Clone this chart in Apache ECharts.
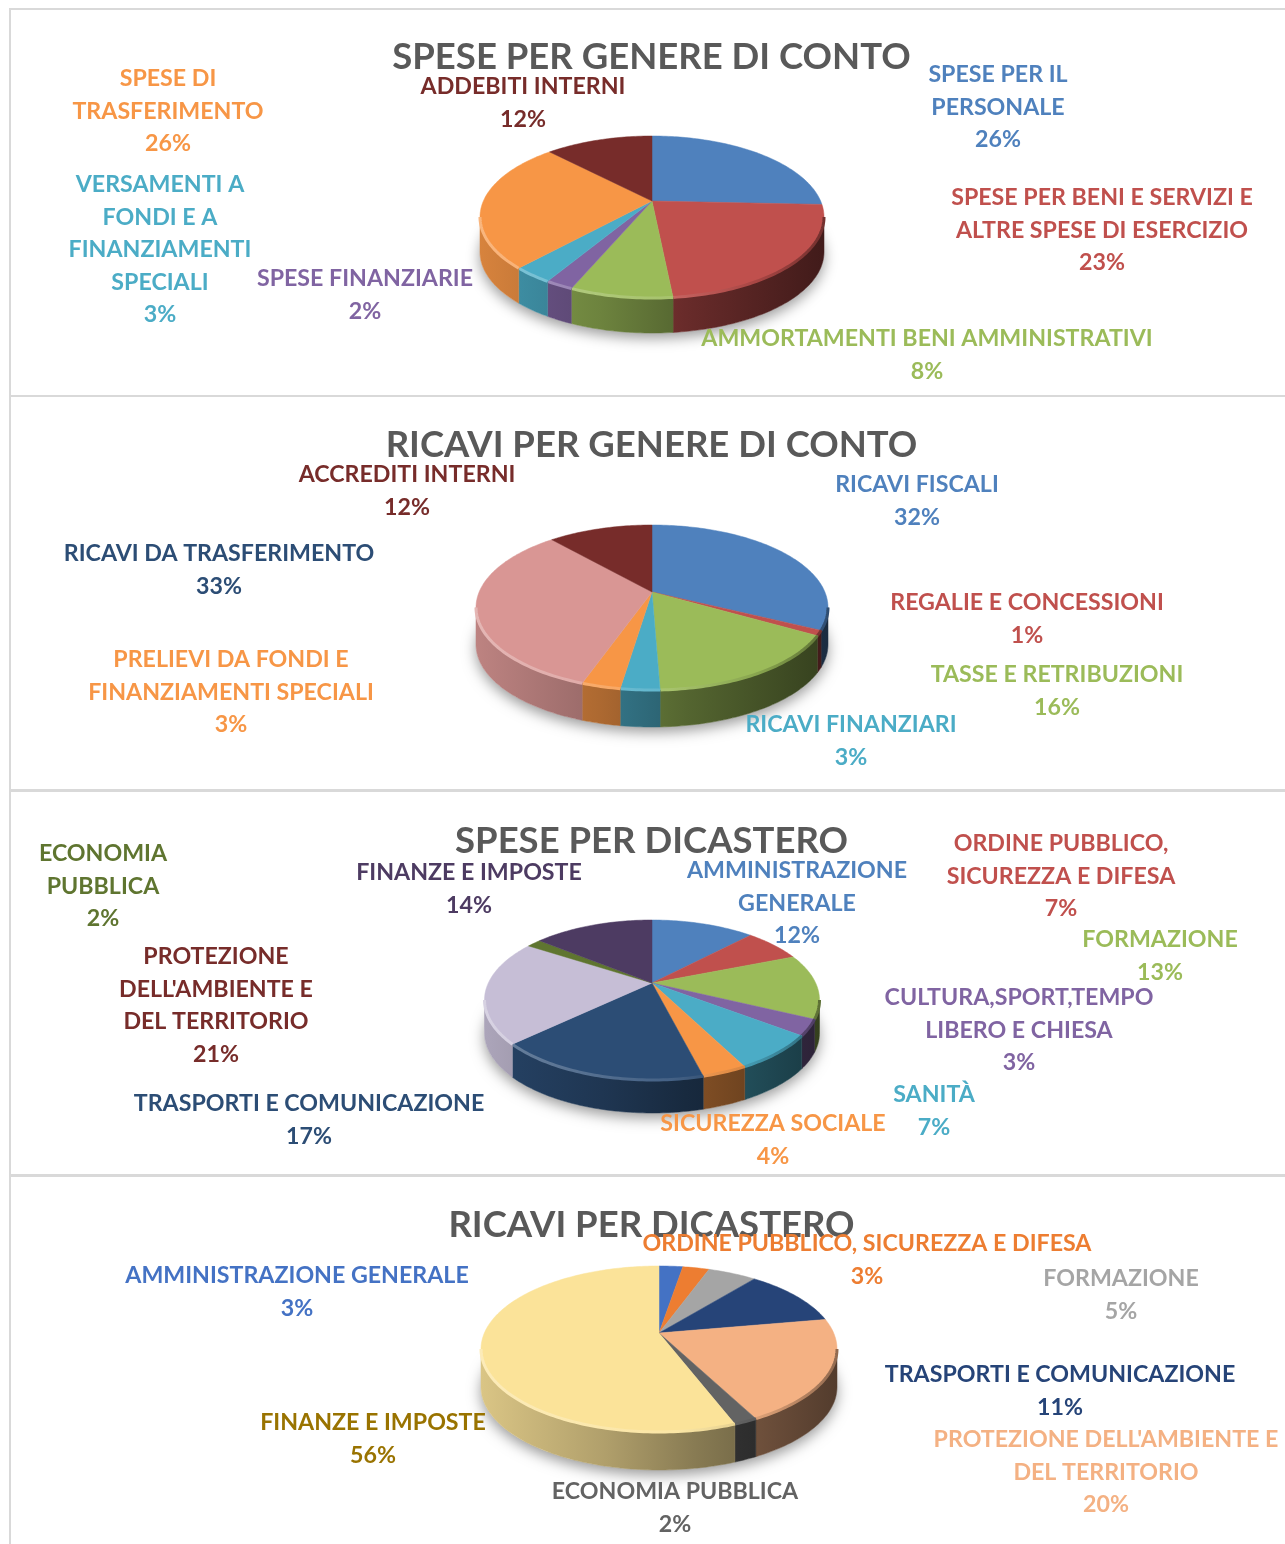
<!DOCTYPE html>
<html>
<head>
<meta charset="utf-8">
<script src="https://cdn.jsdelivr.net/npm/echarts@6/dist/echarts.min.js"></script>
<style>
  html, body { margin: 0; padding: 0; background: #fff; }
  #main { width: 1285px; height: 1544px; }
</style>
</head>
<body>
<div id="main"></div>
<script>
// spese per genere di conto
const speseContoNomi = ['SPESE PER IL\nPERSONALE', 'SPESE PER BENI E SERVIZI E\nALTRE SPESE DI ESERCIZIO', 'AMMORTAMENTI BENI AMMINISTRATIVI', 'SPESE FINANZIARIE', 'VERSAMENTI A\nFONDI E A\nFINANZIAMENTI\nSPECIALI', 'SPESE DI\nTRASFERIMENTO', 'ADDEBITI INTERNI'];
const speseContoValori = [25.7, 22.7, 8.0, 2.2, 3.2, 26.0, 12.2];
// ricavi per genere di conto
const ricaviContoNomi = ['RICAVI FISCALI', 'REGALIE E CONCESSIONI', 'TASSE E RETRIBUZIONI', 'RICAVI FINANZIARI', 'PRELIEVI DA FONDI E\nFINANZIAMENTI SPECIALI', 'RICAVI DA TRASFERIMENTO', 'ACCREDITI INTERNI'];
const ricaviContoValori = [32.3, 1.0, 16.1, 3.0, 3.0, 33.1, 11.51];
// spese per dicastero
const speseDicNomi = ['AMMINISTRAZIONE\nGENERALE', 'ORDINE PUBBLICO,\nSICUREZZA E DIFESA', 'FORMAZIONE', 'CULTURA,SPORT,TEMPO\nLIBERO E CHIESA', 'SANITÀ', 'SICUREZZA SOCIALE', 'TRASPORTI E COMUNICAZIONE', "PROTEZIONE\nDELL'AMBIENTE E\nDEL TERRITORIO", 'ECONOMIA\nPUBBLICA', 'FINANZE E IMPOSTE'];
const speseDicValori = [12.2, 6.8, 13.1, 3.2, 7.1, 3.6, 17.0, 21.1, 1.7, 14.2];
// ricavi per dicastero
const ricaviDicNomi = ['AMMINISTRAZIONE GENERALE', 'ORDINE PUBBLICO, SICUREZZA E DIFESA', 'FORMAZIONE', 'TRASPORTI E COMUNICAZIONE', "PROTEZIONE DELL'AMBIENTE E\nDEL TERRITORIO", 'ECONOMIA PUBBLICA', 'FINANZE E IMPOSTE'];
const ricaviDicValori = [2.6, 2.9, 5.3, 11.4, 20.2, 1.8, 55.8];

const titoli = ['SPESE PER GENERE DI CONTO', 'RICAVI PER GENERE DI CONTO', 'SPESE PER DICASTERO', 'RICAVI PER DICASTERO'];

const FONT = 'Lato';
const LINE_H = 32.6;

// colori fette / testo
const BLU = '#4f81bd', ROSSO = '#c0504d', VERDE = '#9bbb59', VIOLA = '#8064a2', TEAL = '#4bacc6', ARANCIO = '#f79646';
const MARRONE = '#772c2a', NAVY = '#2c4d75', PRUGNA = '#4d3b62', OLIVA = '#5f7530';

const pies = [
  {
    nomi: speseContoNomi, valori: speseContoValori,
    colori: [BLU, ROSSO, VERDE, VIOLA, TEAL, ARANCIO, MARRONE],
    testo: [BLU, ROSSO, VERDE, VIOLA, TEAL, ARANCIO, MARRONE],
    cx: 652, cy: 201, up: 65, down: 97, half: 172, depth: 35, titleY: 56,
    pos: [[998, 74.5], [1102, 197.5], [927, 338.5], [365, 278.5], [160, 184.5], [168, 78.5], [523, 86.5]]
  },
  {
    nomi: ricaviContoNomi, valori: ricaviContoValori,
    colori: [BLU, ROSSO, VERDE, TEAL, ARANCIO, '#d99694', MARRONE],
    testo: [BLU, ROSSO, VERDE, TEAL, ARANCIO, NAVY, MARRONE],
    cx: 652, cy: 592, up: 67, down: 98, half: 176, depth: 37, titleY: 444,
    pos: [[917, 484.5], [1027, 602.5], [1057, 674.5], [851, 724.5], [231, 659.5], [219, 553.5], [407, 474.5]]
  },
  {
    nomi: speseDicNomi, valori: speseDicValori,
    colori: [BLU, ROSSO, VERDE, VIOLA, TEAL, ARANCIO, NAVY, '#c6bed6', OLIVA, PRUGNA],
    testo: [BLU, ROSSO, VERDE, VIOLA, TEAL, ARANCIO, NAVY, MARRONE, OLIVA, PRUGNA],
    cx: 652, cy: 983, up: 63, down: 97, half: 167.5, depth: 33, titleY: 840,
    pos: [[797, 870.5], [1061, 843.5], [1160, 939.5], [1019, 997.5], [934, 1094.5], [773, 1123.5], [309, 1103.5], [216, 956.5], [103, 853.5], [469, 872.5]]
  },
  {
    nomi: ricaviDicNomi, valori: ricaviDicValori,
    colori: ['#4472c4', '#ed7d31', '#a5a5a5', '#264478', '#f4b183', '#636363', '#fbe399'],
    testo: ['#4472c4', '#ed7d31', '#a5a5a5', '#264478', '#f4b183', '#636363', '#997300'],
    cx: 659, cy: 1333, up: 67, down: 99, half: 178, depth: 38, titleY: 1224,
    pos: [[297, 1275.5], [867, 1243.5], [1121, 1278.5], [1060, 1374.5], [1106, 1439.5], [675, 1491.5], [373, 1422.5]]
  }
];

// k < 0 scurisce, k > 0 schiarisce
function shade(c, k) {
  const n = parseInt(c.slice(1), 16);
  const rgb = [n >> 16, (n >> 8) & 255, n & 255].map(v =>
    Math.round(k < 0 ? v * (1 + k) : v + (255 - v) * k));
  return 'rgb(' + rgb.join(',') + ')';
}

function wallGradient(c, x0, x1) {
  return new echarts.graphic.LinearGradient(x0, 0, x1, 0, [
    { offset: 0, color: shade(c, -0.13) },
    { offset: 0.35, color: shade(c, -0.3) },
    { offset: 0.6, color: shade(c, -0.46) },
    { offset: 1, color: shade(c, -0.66) }
  ], true);
}

function rimGradient(c, x0, x1) {
  return new echarts.graphic.LinearGradient(x0, 0, x1, 0, [
    { offset: 0, color: shade(c, 0.3) },
    { offset: 0.55, color: shade(c, 0.12) },
    { offset: 0.8, color: shade(c, -0.12) },
    { offset: 1, color: shade(c, -0.4) }
  ], true);
}

function makeSeries(cfg, idx) {
  // prospettiva: il centro della torta non sta a metà dell'ellisse
  const p = (cfg.down - cfg.up) / (cfg.down + cfg.up);
  const ry = cfg.up * (1 + p);
  const rx = cfg.half * Math.sqrt(1 - p * p);
  const project = (t, dy) => {
    const s = 1 / (1 + p * Math.cos(t));
    return [cfg.cx + rx * Math.sin(t) * s, cfg.cy - ry * Math.cos(t) * s + (dy || 0)];
  };
  const arc = (a, b, dy) => {
    const pts = [];
    const n = Math.max(2, Math.ceil((b - a) / 0.02));
    for (let i = 0; i <= n; i++) pts.push(project(a + (b - a) * i / n, dy));
    return pts;
  };
  // tratto visibile del bordo anteriore
  const tA = Math.acos(-p), tB = 2 * Math.PI - tA;
  const x0 = cfg.cx - cfg.half, x1 = cfg.cx + cfg.half;

  const total = cfg.valori.reduce((s, v) => s + v, 0);
  const starts = [];
  let acc = 0;
  cfg.valori.forEach(v => { starts.push(acc / total * 2 * Math.PI); acc += v; });

  return {
    type: 'custom',
    name: titoli[idx],
    coordinateSystem: 'none',
    silent: true,
    animation: false,
    z: 7,
    data: cfg.valori.map(v => [v]),
    renderItem(params, api) {
      const i = params.dataIndex;
      const v = api.value(0);
      const a = starts[i], b = a + v / total * 2 * Math.PI;
      const c = cfg.colori[i];
      const children = [];

      if (i === 0) {
        // ombra sotto la torta
        children.push({
          type: 'polygon',
          shape: { points: arc(0, 2 * Math.PI, cfg.depth) },
          style: { fill: '#fff', shadowColor: 'rgba(0,0,0,0.4)', shadowBlur: 14, shadowOffsetY: 5 }
        });
      }

      const wa = Math.max(a, tA), wb = Math.min(b, tB);
      if (wb > wa) {
        const top = arc(wa, wb, 0);
        const bottom = arc(wa, wb, cfg.depth).reverse();
        const grad = wallGradient(c, x0, x1);
        children.push({
          type: 'polygon',
          shape: { points: top.concat(bottom) },
          style: { fill: grad, stroke: grad, lineWidth: 0.5 }
        });
      }

      children.push({
        type: 'polygon',
        shape: { points: [[cfg.cx, cfg.cy]].concat(arc(a, b, 0)) },
        style: { fill: c, stroke: c, lineWidth: 0.5 }
      });

      if (wb > wa) {
        children.push({
          type: 'polyline',
          shape: { points: arc(wa, wb, 0) },
          style: { fill: 'none', stroke: rimGradient(c, x0, x1), lineWidth: 3 }
        });
      }

      children.push({
        type: 'text',
        z2: 10,
        style: {
          text: cfg.nomi[i] + '\n' + Math.round(v / total * 100) + '%',
          x: cfg.pos[i][0],
          y: cfg.pos[i][1] - LINE_H / 2,
          fill: cfg.testo[i],
          font: '700 23.2px ' + FONT,
          align: 'center',
          verticalAlign: 'top',
          lineHeight: LINE_H
        }
      });
      return { type: 'group', children };
    }
  };
}

const bordo = (x, y, w, h) => ({ type: 'rect', shape: { x, y, width: w, height: h }, style: { fill: '#d9d9d9' }, silent: true });

const chart = echarts.init(document.getElementById('main'), null, { renderer: 'canvas' });
chart.setOption({
  backgroundColor: '#fff',
  animation: false,
  title: pies.map((cfg, i) => ({
    text: titoli[i],
    left: 646.5,
    top: cfg.titleY - 22,
    textAlign: 'center',
    textStyle: { fontFamily: FONT, fontWeight: 700, fontSize: 36.5, color: '#595959' }
  })),
  graphic: [
    bordo(9, 8, 2, 1536),
    bordo(9, 8, 1276, 2),
    bordo(9, 395, 1276, 2),
    bordo(9, 789, 1276, 3),
    bordo(9, 1174, 1276, 3)
  ],
  series: pies.map(makeSeries)
});
window.addEventListener('resize', () => chart.resize());
</script>
</body>
</html>
